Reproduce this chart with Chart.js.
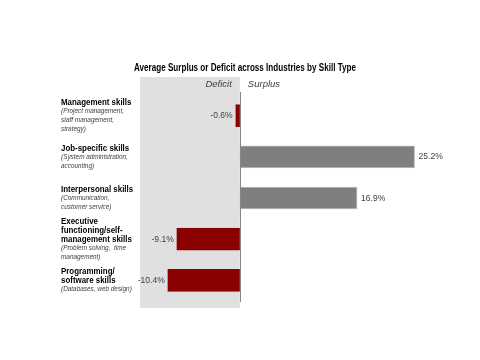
<!DOCTYPE html>
<html>
<head>
<meta charset="utf-8">
<script src="https://cdn.jsdelivr.net/npm/chart.js@4/dist/chart.umd.min.js"></script>
<style>
  html, body { margin: 0; padding: 0; background: #fff; }
  #wrap { width: 480px; height: 360px; }
</style>
</head>
<body>
<div id="wrap"><canvas id="myChart" width="480" height="360"></canvas></div>
<script>
var skillNames = ['Management skills', 'Job-specific skills', 'Interpersonal skills',
  ['Executive', 'functioning/self-', 'management skills'], ['Programming/', 'software skills']];
var skillNotes = [['(Project management,', 'staff management,', 'strategy)'],
  ['(System administration,', 'accounting)'],
  ['(Communication,', 'customer service)'],
  ['(Problem solving,  time', 'management)'],
  ['(Databases, web design)']];
var surplus = [-0.6, 25.2, 16.9, -9.1, -10.4];

var FONT = '"Liberation Sans", Arial, sans-serif';

var ctx = document.getElementById('myChart').getContext('2d');

// narrow text, Calibri-like width
function narrowText(c, s, x, y, sx) {
  c.save();
  c.translate(x, y);
  c.scale(sx, 1);
  c.fillText(s, 0, 0);
  c.restore();
}

// grey deficit panel, zero line, title and texts
var decor = {
  id: 'decor',
  beforeDatasetsDraw: function(chart) {
    var c = chart.ctx, a = chart.chartArea, x = chart.scales.x;
    var x0 = x.getPixelForValue(0);
    c.save();
    c.fillStyle = '#e0e0e0';
    c.fillRect(a.left, a.top - 18, x0 - a.left, a.bottom - a.top + 25);
    c.restore();
  },
  afterDatasetsDraw: function(chart) {
    var c = chart.ctx, a = chart.chartArea, x = chart.scales.x, y = chart.scales.y;
    var x0 = x.getPixelForValue(0);
    c.save();
    c.strokeStyle = '#868686';
    c.lineWidth = 1;
    c.beginPath();
    c.moveTo(Math.round(x0) + 0.5, a.top - 3);
    c.lineTo(Math.round(x0) + 0.5, a.bottom + 1);
    c.stroke();

    c.fillStyle = '#000';
    c.textBaseline = 'middle';
    c.textAlign = 'center';
    c.font = 'bold 10px ' + FONT;
    narrowText(c, 'Average Surplus or Deficit across Industries by Skill Type', 245, 68, 0.81);

    c.fillStyle = '#404040';
    c.font = 'italic 9.5px ' + FONT;
    c.textAlign = 'right';
    c.fillText('Deficit', x0 - 8, 84);
    c.textAlign = 'left';
    c.fillText('Surplus', x0 + 8, 84);

    // category labels
    c.textAlign = 'left';
    surplus.forEach(function(v, i) {
      var t = [].concat(skillNames[i]);
      var n = skillNotes[i];
      var lh = 8.7;
      var total = t.length + n.length;
      var cy = y.getPixelForValue(i) - (total - 1) * lh / 2;
      c.fillStyle = '#000';
      c.font = 'bold 8.8px ' + FONT;
      t.forEach(function(s, k) { narrowText(c, s, 61, cy + k * lh, 0.9); });
      c.fillStyle = '#404040';
      c.font = 'italic 8px ' + FONT;
      n.forEach(function(s, k) { narrowText(c, s, 61, cy + (t.length + k) * lh, 0.8); });
    });

    // value labels
    var meta = chart.getDatasetMeta(0);
    c.font = '9.5px ' + FONT;
    c.fillStyle = '#404040';
    meta.data.forEach(function(bar, i) {
      var v = surplus[i];
      var s = v.toFixed(1) + '%';
      if (v < 0) { c.textAlign = 'right'; narrowText(c, s, bar.x - 3, bar.y, 0.9); }
      else { c.textAlign = 'left'; narrowText(c, s, bar.x + 4, bar.y, 0.9); }
    });
    c.restore();
  }
};

var chart = new Chart(ctx, {
  type: 'bar',
  data: {
    labels: skillNames.map(function(s) { return [].concat(s).join(' '); }),
    datasets: [{
      data: surplus,
      backgroundColor: surplus.map(function(v) { return v < 0 ? '#8b0000' : '#7f7f7f'; }),
      borderColor: surplus.map(function(v) { return v < 0 ? '#8b0000' : '#bfbfbf'; }),
      borderWidth: 1,
      borderSkipped: 'start',
      barThickness: 22
    }]
  },
  options: {
    responsive: false,
    animation: false,
    indexAxis: 'y',
    layout: { padding: { left: 140, right: 46, top: 95, bottom: 59 } },
    plugins: { legend: { display: false }, tooltip: { enabled: false } },
    scales: {
      x: { display: false, min: -14.4, max: 28 },
      y: { display: false }
    }
  },
  plugins: [decor]
});
</script>
</body>
</html>
